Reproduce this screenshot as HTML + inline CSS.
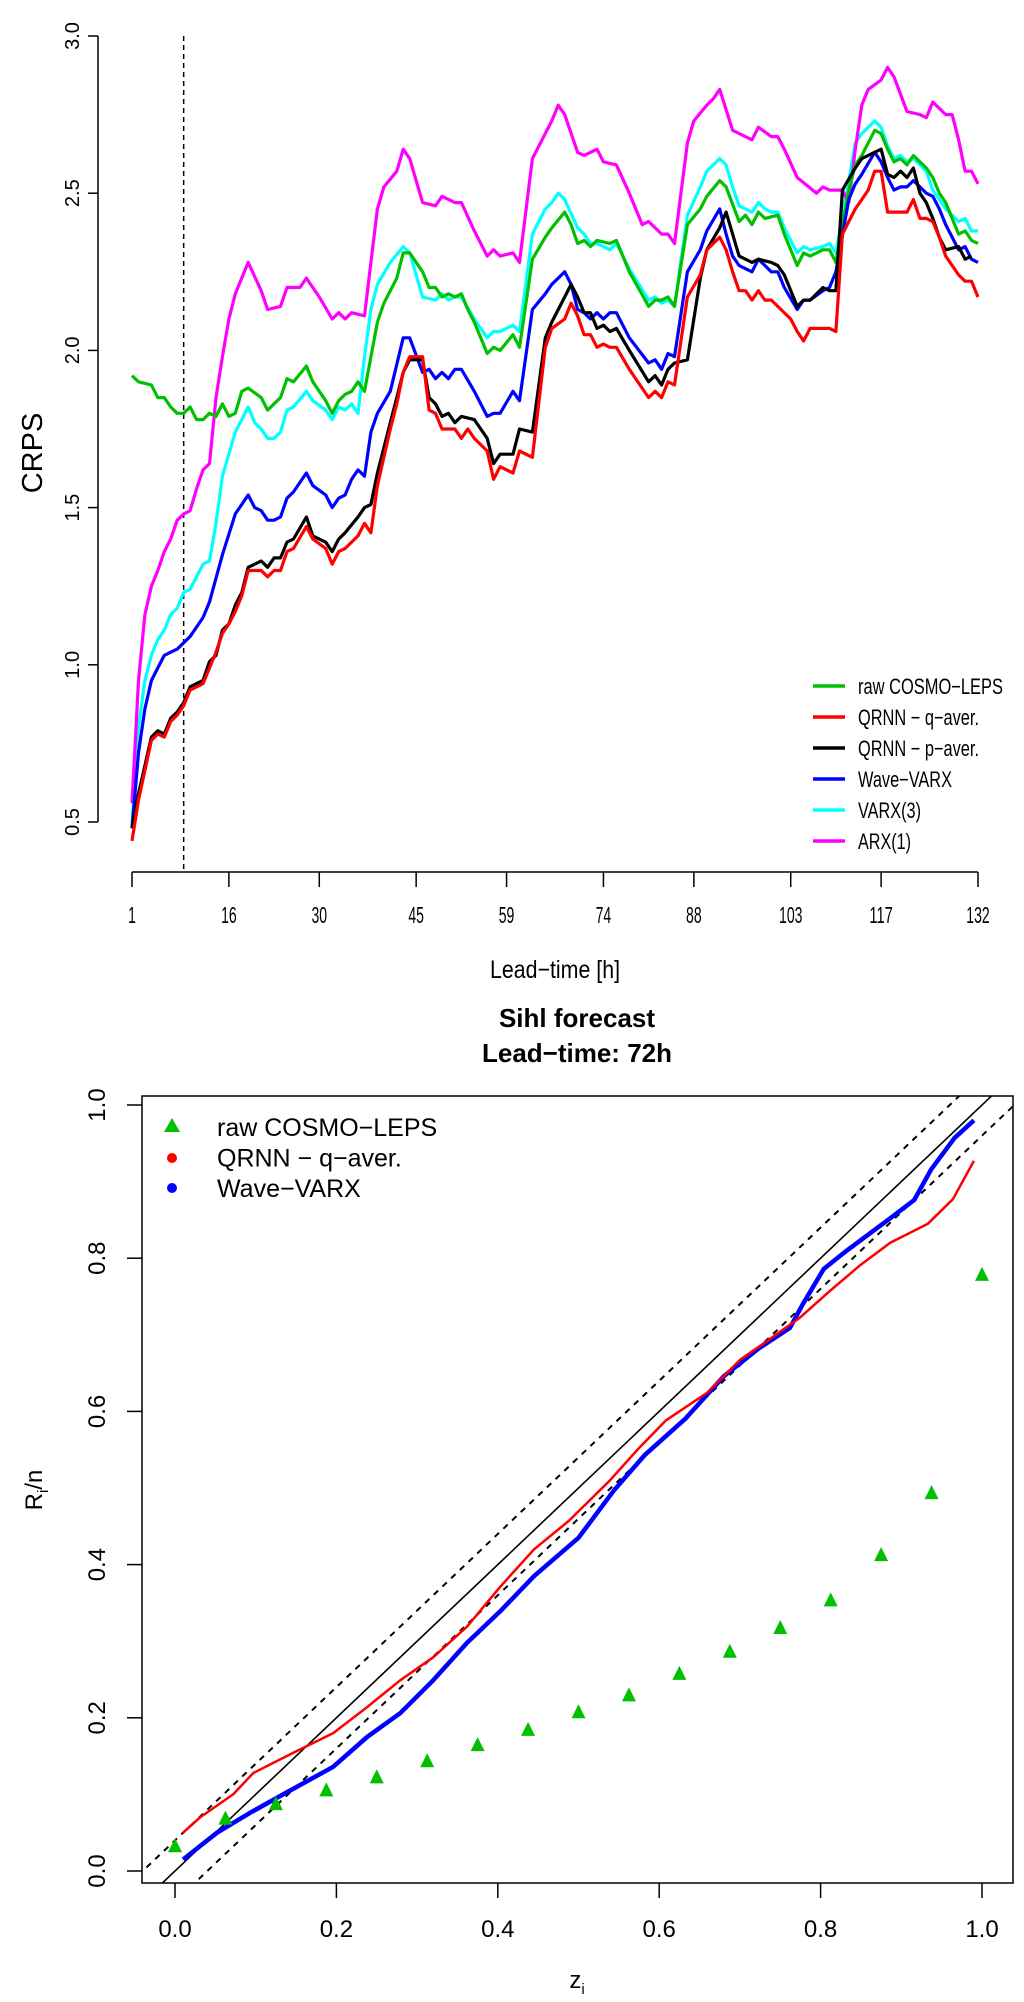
<!DOCTYPE html>
<html><head><meta charset="utf-8"><style>
html,body{margin:0;padding:0;background:#fff}
svg{display:block;font-family:"Liberation Sans",Arial,sans-serif}
</style></head><body>
<svg id="fig" width="1024" height="2002" viewBox="0 0 1024 2002" xmlns="http://www.w3.org/2000/svg">
<g id="topChart"></g>
<g id="botChart"></g>
</svg>
<script>
// ===== Top chart data =====
const leadTicks = [1,16,30,45,59,74,88,103,117,132];
const crpsTicks = [0.5,1.0,1.5,2.0,2.5,3.0];
const crpsTickLabels = ["0.5","1.0","1.5","2.0","2.5","3.0"];
const dashedLead = 9;
const hoursRaw = [1,2,4,5,6,7,8,9,10,11,12,13,14,15,16,17,18,19,21,22,23,24,25,26,28,29,31,32,33,34,35,36,37,39,40,42,43,44,46,47,48,49,50,51,52,53,54,56,57,58,60,61,63,65,66,68,69,70,71,72,73,75,76,78,81,82,83,84,85,87,89,90,92,93,95,96,97,98,99,101,102,104,105,106,108,109,110,112,113,114,116,117,118,119,120,121,122,123,124,125,126,127,129,130,131,132];
const crpsRaw = [1.92,1.90,1.89,1.85,1.85,1.82,1.80,1.80,1.82,1.78,1.78,1.80,1.79,1.83,1.79,1.80,1.87,1.88,1.85,1.81,1.83,1.85,1.91,1.90,1.95,1.90,1.84,1.80,1.84,1.86,1.87,1.90,1.87,2.09,2.15,2.23,2.31,2.31,2.25,2.20,2.20,2.17,2.18,2.17,2.18,2.13,2.09,1.99,2.01,2.00,2.05,2.01,2.29,2.36,2.39,2.44,2.40,2.34,2.35,2.33,2.35,2.34,2.35,2.25,2.14,2.16,2.16,2.17,2.14,2.40,2.45,2.49,2.54,2.52,2.41,2.43,2.40,2.44,2.42,2.43,2.37,2.27,2.31,2.30,2.32,2.32,2.28,2.51,2.59,2.62,2.70,2.69,2.64,2.60,2.61,2.59,2.62,2.60,2.58,2.55,2.50,2.47,2.37,2.38,2.35,2.34];
const hoursQ = [1,2,4,5,6,7,8,9,10,12,13,14,15,16,17,18,19,20,21,22,23,24,25,26,28,29,31,32,33,34,36,37,38,39,41,42,43,44,46,47,48,49,51,52,53,54,56,57,58,60,61,63,65,66,68,69,70,71,72,73,74,75,76,78,81,82,83,84,85,87,89,90,92,93,94,95,96,97,98,99,100,101,103,104,105,106,107,109,110,111,113,114,115,116,117,118,119,120,121,122,123,124,125,126,127,129,130,131,132];
const crpsQ = [0.44,0.57,0.76,0.78,0.77,0.82,0.84,0.87,0.92,0.94,0.99,1.04,1.10,1.13,1.17,1.22,1.30,1.30,1.30,1.28,1.30,1.30,1.36,1.37,1.44,1.40,1.37,1.32,1.36,1.37,1.41,1.45,1.42,1.57,1.75,1.83,1.93,1.98,1.98,1.81,1.80,1.75,1.75,1.72,1.75,1.72,1.68,1.59,1.63,1.61,1.68,1.66,2.01,2.07,2.10,2.15,2.11,2.05,2.05,2.01,2.02,2.01,2.01,1.94,1.85,1.87,1.85,1.90,1.89,2.17,2.24,2.32,2.36,2.32,2.25,2.19,2.19,2.16,2.19,2.16,2.16,2.14,2.10,2.06,2.03,2.07,2.07,2.07,2.06,2.37,2.45,2.48,2.51,2.57,2.57,2.44,2.44,2.44,2.44,2.48,2.42,2.42,2.41,2.36,2.30,2.24,2.22,2.22,2.17,2.16];
const hoursP = [1,2,4,5,6,7,8,9,10,12,13,14,15,16,17,18,19,20,21,22,23,24,25,26,28,29,31,32,33,34,36,37,38,39,41,42,43,44,46,47,48,49,50,51,52,54,56,57,58,60,61,63,65,66,68,69,70,71,72,73,74,75,76,78,81,82,83,84,85,87,89,90,92,93,94,95,96,97,98,100,101,102,104,105,106,108,109,110,111,113,114,116,117,118,119,120,121,122,123,124,125,126,127,129,130,131,132];
const crpsP = [0.48,0.59,0.77,0.79,0.78,0.83,0.85,0.88,0.93,0.95,1.01,1.03,1.11,1.13,1.19,1.23,1.31,1.32,1.33,1.31,1.34,1.34,1.39,1.40,1.47,1.41,1.39,1.36,1.40,1.42,1.47,1.50,1.51,1.61,1.77,1.85,1.93,1.97,1.97,1.85,1.83,1.79,1.80,1.77,1.79,1.78,1.72,1.64,1.67,1.67,1.75,1.74,2.04,2.09,2.17,2.21,2.17,2.12,2.12,2.07,2.08,2.06,2.07,2.00,1.90,1.92,1.89,1.94,1.96,1.97,2.23,2.32,2.39,2.44,2.37,2.30,2.29,2.28,2.29,2.28,2.27,2.24,2.14,2.16,2.16,2.20,2.19,2.19,2.51,2.58,2.61,2.63,2.64,2.56,2.55,2.57,2.55,2.58,2.50,2.47,2.42,2.36,2.32,2.33,2.29,2.30];
const hoursWave = [1,2,3,4,5,6,7,8,9,10,12,13,15,17,19,20,21,22,23,24,25,26,28,29,31,32,33,34,35,36,37,38,39,41,43,44,46,47,48,49,50,51,52,54,56,57,58,60,61,63,65,66,68,69,70,71,72,73,74,75,76,78,81,82,83,84,85,87,89,90,92,93,94,95,96,97,98,99,100,101,102,104,105,106,108,109,110,112,113,114,116,117,118,119,120,121,122,123,124,125,126,127,129,130,131,132];
const crpsWave = [0.48,0.72,0.86,0.95,0.99,1.03,1.04,1.05,1.07,1.09,1.15,1.20,1.35,1.48,1.54,1.50,1.49,1.46,1.46,1.47,1.53,1.55,1.61,1.57,1.54,1.50,1.53,1.54,1.59,1.62,1.60,1.74,1.80,1.87,2.04,2.04,1.93,1.94,1.91,1.93,1.91,1.94,1.94,1.87,1.79,1.80,1.80,1.87,1.84,2.13,2.18,2.21,2.25,2.21,2.13,2.12,2.10,2.12,2.10,2.12,2.12,2.04,1.96,1.97,1.94,1.99,1.98,2.25,2.32,2.38,2.45,2.37,2.30,2.27,2.26,2.25,2.29,2.27,2.25,2.25,2.20,2.13,2.16,2.16,2.19,2.20,2.25,2.48,2.53,2.56,2.63,2.60,2.55,2.51,2.52,2.52,2.54,2.52,2.50,2.49,2.45,2.40,2.32,2.33,2.29,2.28];
const hoursVarx = [1,2,3,4,5,6,7,8,9,10,11,12,13,14,15,17,19,20,21,22,23,24,25,26,28,29,31,32,33,34,35,36,37,38,39,41,43,44,46,48,49,50,51,52,54,56,57,58,60,61,63,65,66,67,68,70,71,72,73,74,75,76,78,81,82,83,84,85,87,89,90,92,93,94,95,96,97,98,99,100,101,102,104,105,106,108,109,110,112,113,114,116,117,118,119,120,121,122,123,124,125,126,127,129,130,131,132];
const crpsVarx = [0.49,0.80,0.95,1.03,1.08,1.11,1.16,1.18,1.23,1.24,1.28,1.32,1.33,1.45,1.60,1.74,1.82,1.77,1.75,1.72,1.72,1.74,1.81,1.82,1.87,1.84,1.81,1.78,1.82,1.81,1.83,1.80,1.98,2.13,2.21,2.28,2.33,2.31,2.17,2.16,2.18,2.16,2.17,2.17,2.10,2.04,2.06,2.06,2.08,2.06,2.37,2.45,2.47,2.50,2.48,2.39,2.37,2.34,2.34,2.33,2.32,2.34,2.26,2.16,2.17,2.15,2.16,2.14,2.43,2.52,2.57,2.61,2.59,2.52,2.46,2.45,2.44,2.47,2.45,2.44,2.44,2.39,2.31,2.33,2.32,2.33,2.34,2.31,2.54,2.66,2.69,2.73,2.71,2.65,2.61,2.62,2.60,2.61,2.59,2.57,2.51,2.48,2.45,2.41,2.42,2.38,2.38];
const hoursArx = [1,2,3,4,5,6,7,8,9,10,11,12,13,14,15,16,17,19,21,22,24,25,27,28,30,32,33,34,35,37,38,39,40,42,43,44,46,48,49,51,52,54,56,57,58,60,61,63,65,66,67,68,70,71,73,74,76,78,80,81,83,84,85,87,88,90,91,92,94,95,97,98,100,101,102,104,107,108,109,111,112,113,114,115,117,118,119,121,123,124,125,127,128,129,130,131,132];
const crpsArx = [0.56,0.95,1.16,1.25,1.30,1.36,1.40,1.46,1.48,1.49,1.56,1.62,1.64,1.85,1.98,2.10,2.18,2.28,2.19,2.13,2.14,2.20,2.20,2.23,2.17,2.10,2.12,2.10,2.12,2.11,2.28,2.45,2.52,2.57,2.64,2.61,2.47,2.46,2.49,2.47,2.47,2.38,2.30,2.32,2.30,2.31,2.28,2.61,2.69,2.73,2.78,2.75,2.63,2.62,2.64,2.60,2.59,2.50,2.40,2.41,2.37,2.37,2.34,2.66,2.73,2.78,2.80,2.83,2.70,2.69,2.67,2.71,2.68,2.68,2.64,2.55,2.50,2.52,2.51,2.51,2.47,2.64,2.78,2.83,2.86,2.90,2.87,2.76,2.75,2.74,2.79,2.75,2.75,2.67,2.57,2.57,2.53];
const seriesNames = ["raw COSMO-LEPS","QRNN - q-aver.","QRNN - p-aver.","Wave-VARX","VARX(3)","ARX(1)"];
const seriesColors = ["#00c000","#ff0000","#000000","#0000ff","#00ffff","#ff00ff"];

// ===== Bottom chart data =====
const zTicks = [0.0,0.2,0.4,0.6,0.8,1.0];
const rTicks = [0.0,0.2,0.4,0.6,0.8,1.0];
const rawZ = [0,0.0625,0.125,0.1875,0.25,0.3125,0.375,0.4375,0.5,0.5625,0.625,0.6875,0.75,0.8125,0.875,0.9375,1.0];
const rawR = [0.031,0.067,0.086,0.104,0.121,0.142,0.163,0.183,0.206,0.228,0.256,0.285,0.316,0.352,0.411,0.492,0.777];
const qrnnZ = [0.01,0.031,0.072,0.097,0.146,0.196,0.238,0.279,0.32,0.362,0.403,0.445,0.488,0.539,0.574,0.608,0.659,0.701,0.727,0.774,0.809,0.848,0.886,0.933,0.964,0.99];
const qrnnR = [0.05,0.07,0.10,0.128,0.154,0.18,0.214,0.249,0.279,0.319,0.371,0.42,0.457,0.51,0.551,0.588,0.624,0.668,0.687,0.722,0.755,0.79,0.82,0.845,0.877,0.927];
const waveZ = [0.01,0.052,0.093,0.134,0.196,0.238,0.279,0.32,0.362,0.403,0.445,0.5,0.544,0.582,0.633,0.68,0.723,0.762,0.778,0.804,0.83,0.886,0.916,0.937,0.966,0.99];
const waveR = [0.015,0.05,0.076,0.10,0.136,0.175,0.206,0.249,0.298,0.339,0.385,0.435,0.497,0.543,0.591,0.646,0.682,0.709,0.74,0.786,0.808,0.852,0.876,0.916,0.957,0.98];
const ksBand = 0.04;
const legendNames2 = ["raw COSMO-LEPS","QRNN - q-aver.","Wave-VARX"];

const NS = "http://www.w3.org/2000/svg";
function mk(parent, tag, attrs, text){
  const el = document.createElementNS(NS, tag);
  for (const k in attrs) el.setAttribute(k, attrs[k]);
  if (text !== undefined) el.textContent = text;
  parent.appendChild(el);
  return el;
}
// ---------- TOP ----------
const topG = document.getElementById('topChart');
const xL = h => 132 + (h - 1) * (846 / 131);
const yC = v => 822 - (v - 0.5) * 314.4;

let e;
e = mk(topG,'line',{x1:98,y1:yC(3.0),x2:98,y2:yC(0.5),stroke:'#000','stroke-width':1.5});
 
crpsTicks.forEach((v,i)=>{
  const t = mk(topG,'line',{x1:88,y1:yC(v),x2:98,y2:yC(v),stroke:'#000','stroke-width':1.5});
   
  const lb = mk(topG,'text',{x:0,y:0,transform:`translate(79,${yC(v)}) rotate(-90)`,'text-anchor':'middle','font-size':20},crpsTickLabels[i]);
   
});
e = mk(topG,'line',{x1:xL(1),y1:872,x2:xL(132),y2:872,stroke:'#000','stroke-width':1.5});
 
leadTicks.forEach(h=>{
  const t = mk(topG,'line',{x1:xL(h),y1:872,x2:xL(h),y2:887,stroke:'#000','stroke-width':1.5});
   
  const s = String(h);
  const lb = mk(topG,'text',{x:xL(h),y:923,'text-anchor':'middle','font-size':23,textLength:s.length*7.8,lengthAdjust:'spacingAndGlyphs'},s);
   
});
e = mk(topG,'text',{x:555,y:978,'text-anchor':'middle','font-size':25,textLength:130,lengthAdjust:'spacingAndGlyphs'},'Lead\u2212time [h]');
 
e = mk(topG,'text',{x:0,y:0,transform:'translate(42,453) rotate(-90)','text-anchor':'middle','font-size':29},'CRPS');
 
e = mk(topG,'line',{x1:xL(dashedLead),y1:yC(3.0),x2:xL(dashedLead),y2:872,stroke:'#000','stroke-width':1.5,'stroke-dasharray':'5,4'});
 

const topSeries = [[hoursRaw,crpsRaw],[hoursQ,crpsQ],[hoursP,crpsP],[hoursWave,crpsWave],[hoursVarx,crpsVarx],[hoursArx,crpsArx]];
const drawOrder = [4,5,0,3,2,1];
drawOrder.forEach(i=>{
  const hs = topSeries[i][0], vs = topSeries[i][1];
  const n = Math.min(hs.length, vs.length);
  let d = '';
  for (let k=0;k<n;k++) d += (k?'L':'M')+xL(hs[k]).toFixed(1)+','+yC(vs[k]).toFixed(1);
  const p = mk(topG,'path',{d:d,fill:'none',stroke:seriesColors[i],'stroke-width':3.2,'stroke-linejoin':'round'});
  
  
});
const legendWidths=[145,121,121,94,63,53];
seriesNames.forEach((n,i)=>{
  const y = 686 + i*31;
  const g = mk(topG,'g',{});
   
  mk(g,'line',{x1:813,y1:y,x2:845,y2:y,stroke:seriesColors[i],'stroke-width':3.5});
  mk(g,'text',{x:858,y:y+8,'font-size':22,textLength:legendWidths[i],lengthAdjust:'spacingAndGlyphs'},n.replace(/-/g,'\u2212'));
});

// ---------- BOTTOM ----------
const botG = document.getElementById('botChart');
const xZ = z => 175 + z*807;
const yR = r => 1871 - r*766;
e = mk(botG,'text',{x:577,y:1027,'text-anchor':'middle','font-size':26,'font-weight':'bold'},'Sihl forecast');
 
e = mk(botG,'text',{x:577,y:1062,'text-anchor':'middle','font-size':26,'font-weight':'bold'},'Lead\u2212time: 72h');
 

const defs = mk(botG,'defs',{});
const cp = mk(defs,'clipPath',{id:'clipB'});
mk(cp,'rect',{x:142,y:1096,width:871,height:787});

e = mk(botG,'rect',{x:142,y:1096,width:871,height:787,fill:'none',stroke:'#000','stroke-width':1.5});
 
rTicks.forEach(v=>{
  const t = mk(botG,'line',{x1:127,y1:yR(v),x2:142,y2:yR(v),stroke:'#000','stroke-width':1.5});
   
  const lb = mk(botG,'text',{x:0,y:0,transform:`translate(105,${yR(v)}) rotate(-90)`,'text-anchor':'middle','font-size':24},v.toFixed(1));
   
});
zTicks.forEach(v=>{
  const t = mk(botG,'line',{x1:xZ(v),y1:1883,x2:xZ(v),y2:1898,stroke:'#000','stroke-width':1.5});
   
  const lb = mk(botG,'text',{x:xZ(v),y:1937,'text-anchor':'middle','font-size':24},v.toFixed(1));
   
});
e = mk(botG,'text',{x:577,y:1988,'text-anchor':'middle','font-size':24},'z');
 
mk(e,'tspan',{'font-size':15,dy:6},'i');
e = mk(botG,'text',{x:0,y:0,transform:'translate(42,1490) rotate(-90)','text-anchor':'middle','font-size':24},'R');
 
mk(e,'tspan',{'font-size':15,dy:6},'i');
mk(e,'tspan',{dy:-6},'/n');

const clipG = mk(botG,'g',{'clip-path':'url(#clipB)'});
e = mk(clipG,'line',{x1:xZ(-0.1),y1:yR(-0.1),x2:xZ(1.1),y2:yR(1.1),stroke:'#000','stroke-width':1.6});
 
[ksBand,-ksBand].forEach(o=>{
  const l = mk(clipG,'line',{x1:xZ(-0.1),y1:yR(-0.1+o),x2:xZ(1.1),y2:yR(1.1+o),stroke:'#000','stroke-width':2,'stroke-dasharray':'6,6'});
   
});
function pathOf(zs,rs){let d='';const n=Math.min(zs.length,rs.length);for(let k=0;k<n;k++)d+=(k?'L':'M')+xZ(zs[k]).toFixed(1)+','+yR(rs[k]).toFixed(1);return d;}
e = mk(clipG,'path',{d:pathOf(waveZ,waveR),fill:'none',stroke:'#0000ff','stroke-width':4.5,'stroke-linejoin':'round'});
 
e = mk(clipG,'path',{d:pathOf(qrnnZ,qrnnR),fill:'none',stroke:'#ff0000','stroke-width':2.5,'stroke-linejoin':'round'});
 
rawZ.forEach((z,k)=>{
  const cx = xZ(z), cy = yR(rawR[k]);
  const t = mk(clipG,'polygon',{points:`${cx},${cy-9} ${cx-7},${cy+5} ${cx+7},${cy+5}`,fill:'#00c000'});
   
});
const lg = mk(botG,'g',{});
 
mk(lg,'polygon',{points:'172,1118 164,1132 180,1132',fill:'#00c000'});
mk(lg,'circle',{cx:172,cy:1158,r:5,fill:'#ff0000'});
mk(lg,'circle',{cx:172,cy:1188,r:5,fill:'#0000ff'});
legendNames2.forEach((n,i)=>{
  const t = mk(lg,'text',{x:217,y:1136+i*30.5,'font-size':25},n.replace(/-/g,'\u2212'));
   
});
</script>
</body></html>
